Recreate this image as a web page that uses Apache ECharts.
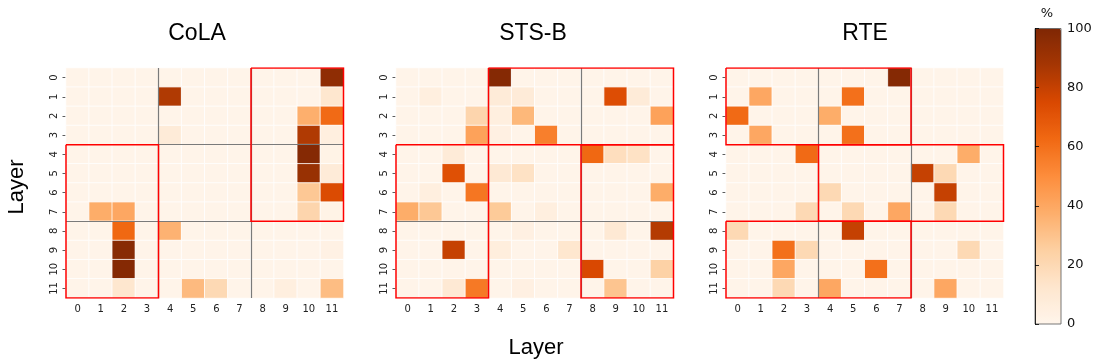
<!DOCTYPE html>
<html>
<head>
<meta charset="utf-8">
<title>Layer heatmaps</title>
<script src="https://cdn.jsdelivr.net/npm/echarts@6/dist/echarts.min.js"></script>
<style>
  html, body { margin: 0; padding: 0; background: #fff; }
  #chart { width: 1104px; height: 364px; }
</style>
</head>
<body>
<div id="chart"></div>
<script>
// tick labels for both axes
const layers = ['0', '1', '2', '3', '4', '5', '6', '7', '8', '9', '10', '11'];
const taskNames = ['CoLA', 'STS-B', 'RTE'];
const colorbarTicks = [0, 20, 40, 60, 80, 100];

// rows = layer on y axis, columns = layer on x axis (percent)
const colaValues = [
  [1, 1, 1, 1, 1, 1, 1, 1, 1, 1, 1, 95],
  [1, 1, 1, 1, 85, 1, 1, 1, 1, 1, 1, 12],
  [1, 1, 1, 1, 1, 1, 1, 1, 1, 1, 37, 62],
  [1, 1, 1, 1, 8, 1, 1, 1, 1, 1, 85, 5],
  [1, 1, 1, 1, 1, 1, 1, 1, 1, 1, 98, 2],
  [1, 1, 1, 1, 1, 1, 1, 1, 1, 1, 92, 8],
  [1, 1, 1, 1, 1, 1, 1, 1, 1, 1, 28, 74],
  [1, 38, 40, 1, 1, 1, 1, 1, 1, 1, 22, 2],
  [1, 1, 63, 1, 36, 1, 1, 1, 1, 1, 1, 1],
  [1, 1, 97, 1, 1, 1, 1, 1, 1, 1, 1, 3],
  [1, 1, 98, 1, 1, 1, 1, 1, 1, 1, 1, 1],
  [1, 1, 12, 1, 1, 33, 20, 1, 1, 5, 1, 32]
];

const stsbValues = [
  [1, 1, 1, 1, 98, 1, 1, 1, 1, 1, 1, 1],
  [1, 5, 1, 1, 8, 8, 1, 1, 1, 73, 8, 1],
  [1, 1, 1, 22, 5, 34, 1, 1, 1, 1, 1, 42],
  [1, 1, 1, 42, 4, 1, 55, 1, 1, 1, 1, 1],
  [1, 1, 8, 1, 1, 1, 1, 1, 63, 17, 15, 1],
  [1, 1, 72, 1, 10, 15, 1, 1, 1, 1, 1, 1],
  [1, 5, 1, 58, 1, 1, 1, 1, 1, 1, 1, 38],
  [38, 28, 1, 1, 27, 1, 5, 1, 1, 1, 1, 1],
  [1, 1, 1, 1, 1, 4, 1, 1, 1, 10, 1, 84],
  [1, 1, 80, 1, 6, 1, 1, 12, 1, 1, 1, 1],
  [1, 1, 1, 1, 1, 1, 1, 1, 75, 1, 1, 24],
  [1, 1, 10, 57, 1, 4, 1, 1, 1, 29, 1, 1]
];

const rteValues = [
  [1, 1, 1, 1, 1, 1, 1, 98, 1, 1, 1, 1],
  [1, 40, 1, 1, 1, 60, 1, 1, 1, 1, 1, 1],
  [62, 1, 1, 1, 38, 1, 1, 1, 1, 1, 1, 1],
  [1, 40, 1, 1, 1, 60, 1, 1, 1, 1, 1, 1],
  [1, 1, 1, 62, 1, 1, 1, 1, 1, 1, 38, 1],
  [1, 1, 1, 1, 1, 1, 1, 1, 80, 20, 1, 1],
  [1, 1, 1, 1, 20, 1, 1, 1, 1, 80, 1, 1],
  [1, 1, 1, 20, 1, 20, 1, 40, 1, 20, 1, 1],
  [20, 1, 1, 1, 1, 80, 1, 1, 1, 1, 1, 1],
  [1, 1, 60, 20, 1, 1, 1, 1, 1, 1, 20, 1],
  [1, 1, 40, 1, 1, 1, 60, 1, 1, 1, 1, 1],
  [1, 1, 20, 1, 40, 1, 1, 1, 1, 40, 1, 1]
];

// block boundaries (gray lines) and highlighted blocks [x0, y0, x1, y1]
const blockEdges = [4, 8];
const colaBoxes = [[8, 0, 12, 8], [0, 4, 4, 12]];
const stsbBoxes = [[4, 0, 12, 4], [0, 4, 4, 12], [8, 4, 12, 12]];
const rteBoxes = [[0, 0, 8, 4], [4, 4, 12, 8], [0, 8, 8, 12]];

const allValues = [colaValues, stsbValues, rteValues];
const allBoxes = [colaBoxes, stsbBoxes, rteBoxes];

// layout
const gridLefts = [66, 396, 726];
const titleCenters = [197, 533, 865];
const gridTop = 68;
const gridWidth = 277.5;
const gridHeight = 230;

const ORANGES = ['#fff5eb', '#fee6ce', '#fdd0a2', '#fdae6b', '#fd8d3c',
  '#f16913', '#d94801', '#a63603', '#7f2704'];
const tickFont = 'DejaVu Sans';

function toCells(matrix) {
  const cells = [];
  matrix.forEach((row, r) => {
    row.forEach((v, c) => cells.push([c, r, v]));
  });
  return cells;
}

function boxPath(b) {
  return { coords: [[b[0], b[1]], [b[2], b[1]], [b[2], b[3]], [b[0], b[3]], [b[0], b[1]]] };
}

const grids = [];
const xAxes = [];
const yAxes = [];
const series = [];
const graphics = [];

for (let i = 0; i < 3; i++) {
  grids.push({ left: gridLefts[i], top: gridTop, width: gridWidth, height: gridHeight });

  // category axes for the cells
  xAxes.push({
    type: 'category', gridIndex: i, data: layers, position: 'bottom',
    axisLine: { show: false },
    axisTick: { show: true, alignWithLabel: true, length: 3.5, lineStyle: { color: '#333', width: 0.8 } },
    axisLabel: { fontFamily: tickFont, fontSize: 10, color: '#222', margin: 6 },
    splitLine: { show: false }
  });
  yAxes.push({
    type: 'category', gridIndex: i, data: layers, inverse: true,
    axisLine: { show: false },
    axisTick: { show: true, alignWithLabel: true, length: 3.5, lineStyle: { color: '#333', width: 0.8 } },
    axisLabel: { fontFamily: tickFont, fontSize: 10, color: '#222', rotate: 90, margin: 7 },
    splitLine: { show: false }
  });
  // hidden value axes for the block lines
  xAxes.push({ type: 'value', gridIndex: i, min: 0, max: 12, show: false });
  yAxes.push({ type: 'value', gridIndex: i, min: 0, max: 12, inverse: true, show: false });

  series.push({
    name: taskNames[i],
    type: 'heatmap',
    xAxisIndex: 2 * i,
    yAxisIndex: 2 * i,
    data: toCells(allValues[i]),
    itemStyle: { borderColor: '#fff', borderWidth: 0.8 },
    emphasis: { disabled: true },
    silent: true
  });

  const grayLines = [];
  blockEdges.forEach(e => {
    grayLines.push({ coords: [[e, 0], [e, 12]] });
    grayLines.push({ coords: [[0, e], [12, e]] });
  });
  series.push({
    type: 'lines', coordinateSystem: 'cartesian2d',
    xAxisIndex: 2 * i + 1, yAxisIndex: 2 * i + 1,
    data: grayLines, silent: true, z: 3,
    lineStyle: { color: '#7a7a7a', width: 1.2, opacity: 1 }
  });
  series.push({
    type: 'lines', coordinateSystem: 'cartesian2d', polyline: true,
    xAxisIndex: 2 * i + 1, yAxisIndex: 2 * i + 1,
    data: allBoxes[i].map(boxPath), silent: true, z: 4,
    lineStyle: { color: '#ff0000', width: 1.5, opacity: 1 }
  });

  graphics.push({
    type: 'text', x: titleCenters[i], y: 34,
    style: { text: taskNames[i], font: '23px "Liberation Sans"', fill: '#000',
      textAlign: 'center', textVerticalAlign: 'middle' }
  });
}

// colorbar tick axis
grids.push({ left: 1035, top: 28.5, width: 26, height: 295.5, show: true,
  borderColor: '#555', borderWidth: 0.8, backgroundColor: 'transparent', z: 5 });
xAxes.push({ type: 'value', gridIndex: 3, show: false, min: 0, max: 1 });
yAxes.push({
  type: 'value', gridIndex: 3, min: colorbarTicks[0], max: colorbarTicks[colorbarTicks.length - 1],
  interval: colorbarTicks[1] - colorbarTicks[0], position: 'right', z: 5,
  axisLine: { show: true, lineStyle: { color: '#000', width: 0.8 } },
  axisTick: { show: true, length: 4, lineStyle: { color: '#000', width: 0.8 } },
  axisLabel: { fontFamily: tickFont, fontSize: 13, color: '#111', margin: 6 },
  splitLine: { show: false }
});

graphics.push({
  type: 'text', x: 1047, y: 14,
  style: { text: '%', font: '13px "DejaVu Sans"', fill: '#111', textAlign: 'center', textVerticalAlign: 'middle' }
});
graphics.push({
  type: 'text', x: 536, y: 348,
  style: { text: 'Layer', font: '22px "Liberation Sans"', fill: '#000', textAlign: 'center', textVerticalAlign: 'middle' }
});
graphics.push({
  type: 'text', x: 17, y: 187, rotation: Math.PI / 2,
  style: { text: 'Layer', font: '22px "Liberation Sans"', fill: '#000', textAlign: 'center', textVerticalAlign: 'middle' }
});

const chart = echarts.init(document.getElementById('chart'), null, { renderer: 'canvas' });

const option = {
  animation: false,
  backgroundColor: '#fff',
  grid: grids,
  xAxis: xAxes,
  yAxis: yAxes,
  visualMap: {
    type: 'continuous',
    min: 0,
    max: 100,
    seriesIndex: [0, 3, 6],
    calculable: false,
    hoverLink: false,
    text: null,
    showLabel: false,
    itemWidth: 26,
    itemHeight: 295.5,
    left: 1035,
    top: 28.5,
    padding: 0,
    inRange: { color: ORANGES }
  },
  graphic: graphics,
  series: series
};

chart.setOption(option);

window.addEventListener('resize', () => {
  chart.resize();
});
</script>
</body>
</html>
